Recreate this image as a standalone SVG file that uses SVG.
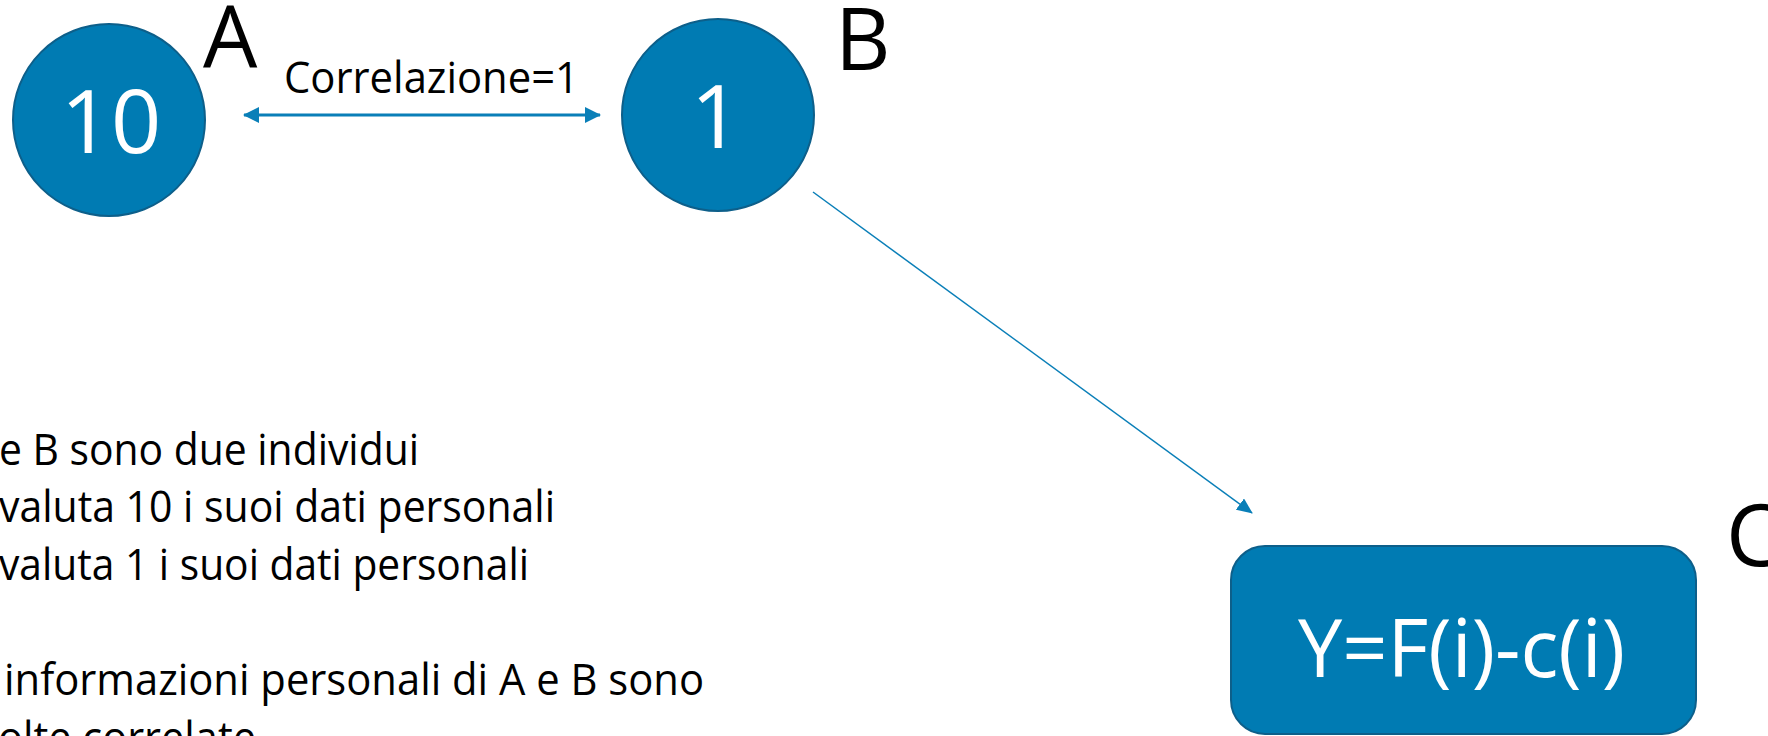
<svg xmlns="http://www.w3.org/2000/svg" width="1768" height="736" viewBox="0 0 1768 736">
<style>
.node{fill:#007BB3;stroke:#0D5F8A;stroke-width:2}
.wt{fill:#ffffff;font-family:"Open Sans","Liberation Sans",sans-serif}
.bk{fill:#000000;font-family:"Open Sans","Liberation Sans",sans-serif}
.lbl{font-size:86px}
.body{font-size:43px}
.conn{stroke:#0A7FB8;fill:none}
</style>
<defs>
<marker id="ah" markerUnits="userSpaceOnUse" markerWidth="16" markerHeight="16" refX="15" refY="8" orient="auto-start-reverse" viewBox="0 0 16 16">
<path d="M0,0 L16,8 L0,16 Z" fill="#0A7FB8"/>
</marker>
<marker id="ah2" markerUnits="userSpaceOnUse" markerWidth="16" markerHeight="14" refX="15" refY="7" orient="auto" viewBox="0 0 16 14">
<path d="M0,0 L16,7 L0,14 Z" fill="#0A7FB8"/>
</marker>
</defs>
<g id="connectors">
<line class="conn" x1="244" y1="115" x2="600" y2="115" stroke-width="3" marker-start="url(#ah)" marker-end="url(#ah)"/>
<line class="conn" x1="813" y1="192" x2="1252" y2="513" stroke-width="1.5" marker-end="url(#ah2)"/>
<text class="bk body" x="284" y="93" textLength="295" lengthAdjust="spacingAndGlyphs">Correlazione=1</text>
</g>
<g id="nodeA">
<circle class="node" cx="109" cy="120" r="96"/>
<text class="wt" x="111" y="153" font-size="88" text-anchor="middle">10</text>
<text class="bk lbl" x="203" y="68">A</text>
</g>
<g id="nodeB">
<circle class="node" cx="718" cy="115" r="96"/>
<text class="wt" x="716" y="148" font-size="88" text-anchor="middle">1</text>
<text class="bk lbl" x="835" y="70">B</text>
</g>
<g id="nodeC">
<rect class="node" x="1231" y="546" width="465" height="188" rx="34" ry="34"/>
<text class="wt" x="1298" y="677" font-size="80" textLength="327" lengthAdjust="spacingAndGlyphs">Y=F(i)-c(i)</text>
<text class="bk lbl" x="1726" y="566">C</text>
</g>
<g id="notes" class="bk body">
<text x="-1" y="465" textLength="420" lengthAdjust="spacingAndGlyphs">e B sono due individui</text>
<text x="-1" y="522" textLength="556" lengthAdjust="spacingAndGlyphs">valuta 10 i suoi dati personali</text>
<text x="-1" y="580" textLength="530" lengthAdjust="spacingAndGlyphs">valuta 1 i suoi dati personali</text>
<text x="4" y="695" textLength="700" lengthAdjust="spacingAndGlyphs">informazioni personali di A e B sono</text>
<text x="-2" y="753" textLength="258" lengthAdjust="spacingAndGlyphs">olte correlate</text>
</g>
</svg>
